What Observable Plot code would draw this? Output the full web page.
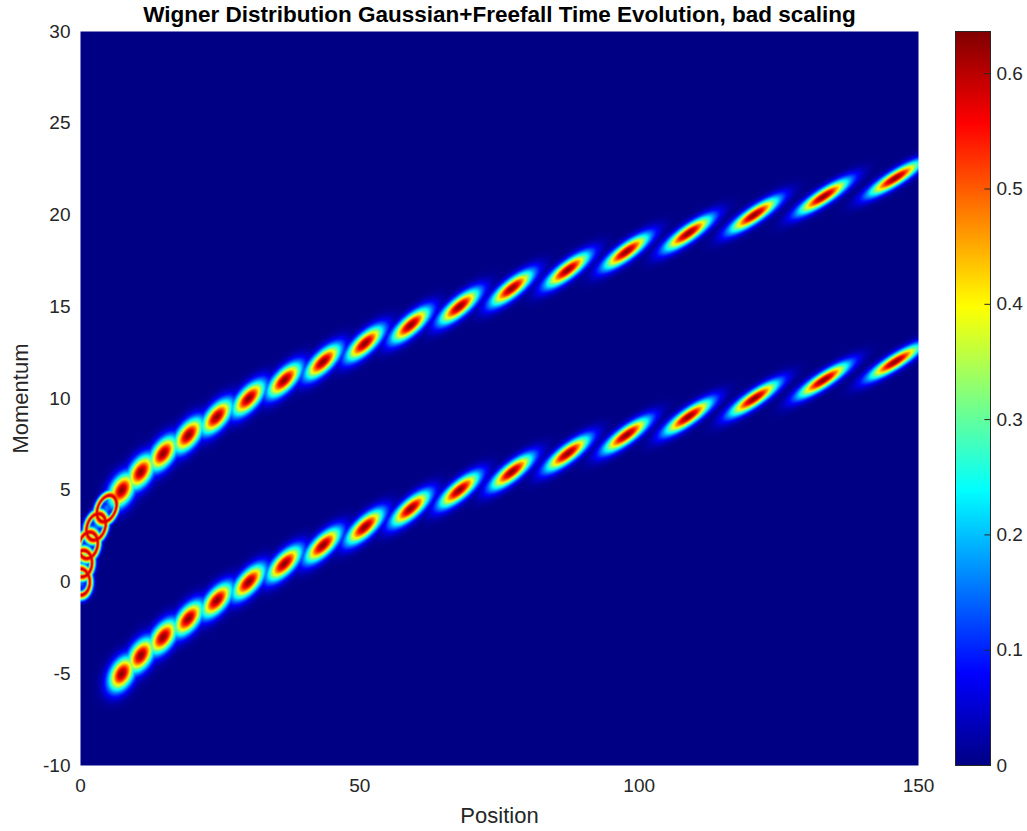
<!DOCTYPE html>
<html>
<head>
<meta charset="utf-8">
<script src="https://cdn.jsdelivr.net/npm/d3@7"></script>
<script src="https://cdn.jsdelivr.net/npm/@observablehq/plot@0.6"></script>
<style>
  html, body { margin: 0; padding: 0; background: #fff; }
  #wrap { position: relative; width: 1027px; height: 831px; overflow: hidden; }
  #main, #bar { position: absolute; top: 0; }
  #main { left: 0; }
  #bar { left: 940px; }
</style>
</head>
<body>
<div id="wrap"><div id="main"></div><div id="bar"></div></div>
<script>
// ---- data ----
const titleText = "Wigner Distribution Gaussian+Freefall Time Evolution, bad scaling";
const xLabel = "Position";
const yLabel = "Momentum";
const xTicks = [0, 50, 100, 150];
const yTicks = [-10, -5, 0, 5, 10, 15, 20, 25, 30];
const colorTicks = [0, 0.1, 0.2, 0.3, 0.4, 0.5, 0.6];
const colorMax = 0.6366;

// upper branch (one packet per time step)
const upperStep     = [0, 1, 2, 3, 4, 5, 6, 7, 8, 9, 10, 11, 12, 13, 14, 15, 16, 17, 18, 19, 20, 21, 22];
const upperMomentum = [0, 1, 2, 3, 4, 5, 6, 7, 8, 9, 10, 11, 12, 13, 14, 15, 16, 17, 18, 19, 20, 21, 22];
const upperPosition = [0, 0.4, 1.4, 2.8, 4.7, 7.4, 10.8, 14.8, 19.3, 24.4, 30.1, 36.5, 43.4, 50.9, 59.1, 67.8, 77.2, 87.2, 97.7, 108.8, 120.6, 133.0, 145.8];
const upperPeak     = [0.58, 0.58, 0.58, 0.58, 0.58, 0.63, 0.63, 0.63, 0.63, 0.63, 0.63, 0.63, 0.63, 0.63, 0.63, 0.63, 0.63, 0.63, 0.63, 0.63, 0.63, 0.63, 0.63];
const upperShape    = ["ring", "ring", "ring", "ring", "ring", "spot", "spot", "spot", "spot", "spot", "spot", "spot", "spot", "spot", "spot", "spot", "spot", "spot", "spot", "spot", "spot", "spot", "spot"];

// lower branch
const lowerStep     = [5, 6, 7, 8, 9, 10, 11, 12, 13, 14, 15, 16, 17, 18, 19, 20, 21, 22];
const lowerMomentum = [-5, -4, -3, -2, -1, 0, 1, 2, 3, 4, 5, 6, 7, 8, 9, 10, 11, 12];
const lowerPosition = [7.4, 10.8, 14.8, 19.3, 24.4, 30.1, 36.5, 43.4, 50.9, 59.1, 67.8, 77.2, 87.2, 97.7, 108.8, 120.6, 133.0, 145.8];
const lowerPeak     = [0.63, 0.63, 0.63, 0.63, 0.63, 0.63, 0.63, 0.63, 0.63, 0.63, 0.63, 0.63, 0.63, 0.63, 0.63, 0.63, 0.63, 0.63];

// ---- packet table ----
const packets = [];
upperStep.forEach((s, i) => packets.push({step: s, x: upperPosition[i], p: upperMomentum[i], peak: upperPeak[i], ring: upperShape[i] === "ring"}));
lowerStep.forEach((s, i) => packets.push({step: s, x: lowerPosition[i], p: lowerMomentum[i], peak: lowerPeak[i], ring: false}));

const SX = 1.45, SP = 0.63, SHEAR = 0.2, R0 = 1.12;
function wigner(x, p) {
  let v = 0;
  for (const b of packets) {
    const dp = p - b.p;
    if (dp > 3.2 || dp < -3.2) continue;
    const dx = x - b.x - SHEAR * b.step * dp;
    if (dx > 9 || dx < -9) continue;
    const u = dx / SX, w = dp / SP;
    const r2 = u * u + w * w;
    let val;
    if (b.ring) {
      const r = Math.sqrt(r2);
      const d = r - R0;
      const ww = d < 0 ? 0.2 : 0.32;
      val = b.peak * Math.exp(-d * d / (2 * ww * ww)) + 0.16 * Math.exp(-r2 / 0.5);
    } else {
      val = b.peak * Math.exp(-r2 / 2);
    }
    if (val > v) v = val;
  }
  return v;
}

const jet = ["#000084", "#0000ff", "#00ffff", "#ffff00", "#ff0000", "#800000"];
const jetDomain = [0, 1/8, 3/8, 5/8, 7/8, 1].map(t => t * colorMax);
const colorScale = {type: "linear", domain: jetDomain, range: jet, interpolate: "rgb", clamp: true};

const font = "'Liberation Sans', Arial, Helvetica, sans-serif";
const fmt = d => String(d);

const main = Plot.plot({
  width: 1027, height: 831,
  marginLeft: 80, marginRight: 109, marginTop: 31, marginBottom: 66,
  style: {fontFamily: font, fontSize: "19px", color: "#262626", background: "white"},
  x: {domain: [0, 150]},
  y: {domain: [-10, 30]},
  color: colorScale,
  marks: [
    Plot.raster({fill: wigner, x1: 0, x2: 150, y1: -10, y2: 30, pixelSize: 1}),
    Plot.axisX({ticks: xTicks, tickFormat: fmt, tickSize: 0, tickPadding: 13, label: null, fontSize: 19}),
    Plot.axisY({ticks: yTicks, tickFormat: fmt, tickSize: 0, tickPadding: 10, label: null, fontSize: 19}),
    Plot.text([xLabel], {text: d => d, frameAnchor: "bottom", dy: 50, lineAnchor: "middle", textAnchor: "middle", fontSize: 22, fill: "#262626"}),
    Plot.text([yLabel], {text: d => d, frameAnchor: "left", dx: -60, rotate: -90, lineAnchor: "middle", textAnchor: "middle", fontSize: 22, fill: "#262626"}),
    Plot.text([titleText], {text: d => d, frameAnchor: "top", dy: -17, lineAnchor: "middle", textAnchor: "middle", fontSize: 22.5, fontWeight: "bold", fill: "black"})
  ]
});
document.getElementById("main").appendChild(main);

const bar = Plot.plot({
  width: 87, height: 831,
  marginLeft: 15, marginRight: 37, marginTop: 31, marginBottom: 66,
  style: {fontFamily: font, fontSize: "19px", color: "#262626", background: "transparent"},
  x: {domain: [0, 1], axis: null},
  y: {domain: [0, colorMax]},
  color: colorScale,
  marks: [
    Plot.raster({fill: (x, y) => y, x1: 0, x2: 1, y1: 0, y2: colorMax, pixelSize: 1}),
    Plot.ruleY(colorTicks, {y: d => d, x1: 0.84, x2: 1, stroke: "#262626", strokeWidth: 1}),
    Plot.frame({stroke: "#262626", strokeWidth: 1}),
    Plot.axisY({anchor: "right", ticks: colorTicks, tickFormat: fmt, tickSize: 0, tickPadding: 6, label: null, fontSize: 19})
  ]
});
document.getElementById("bar").appendChild(bar);
</script>
</body>
</html>
